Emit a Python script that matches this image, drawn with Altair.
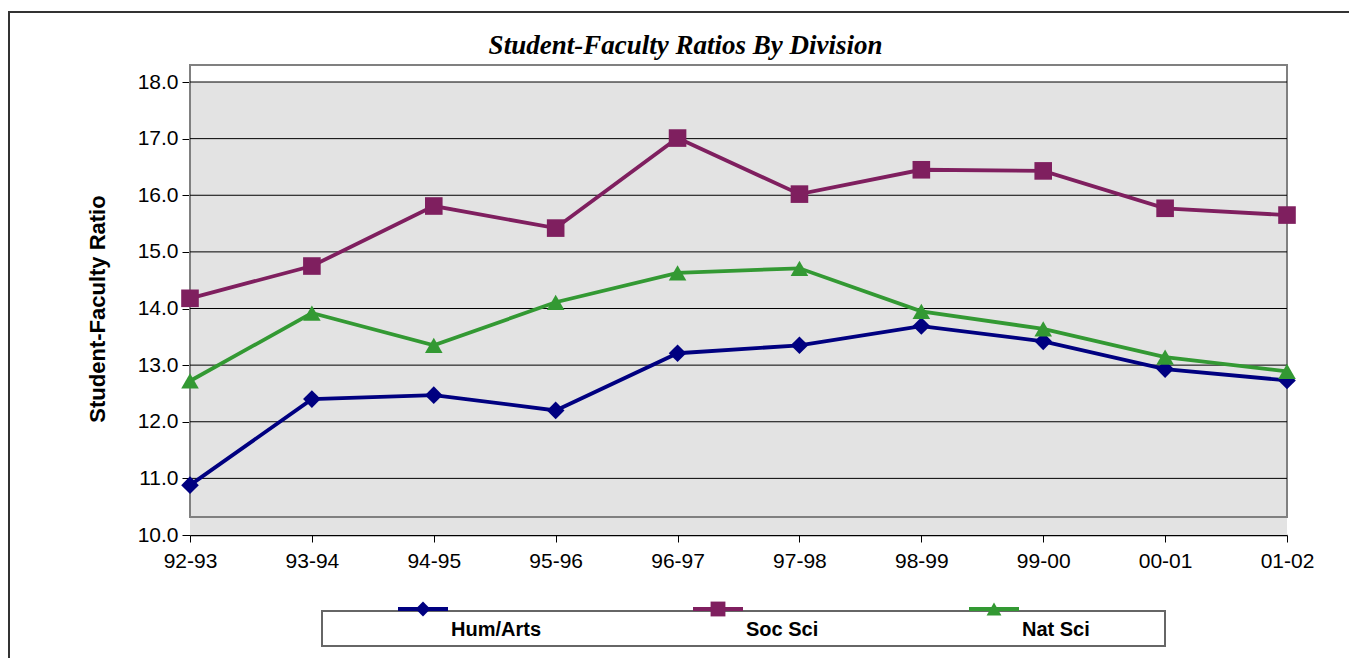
import altair as alt
import pandas as pd

periods = ["92-93", "93-94", "94-95", "95-96", "96-97", "97-98", "98-99", "99-00", "00-01", "01-02"]
series_names = ["Hum/Arts", "Soc Sci", "Nat Sci"]
hum_arts = [10.88, 12.40, 12.47, 12.20, 13.21, 13.35, 13.69, 13.42, 12.93, 12.73]
soc_sci = [14.18, 14.75, 15.81, 15.42, 17.01, 16.02, 16.45, 16.43, 15.77, 15.65]
nat_sci = [12.72, 13.92, 13.35, 14.11, 14.63, 14.71, 13.95, 13.64, 13.14, 12.89]
y_ticks = [10, 11, 12, 13, 14, 15, 16, 17, 18]
colors = ["#000080", "#7F1F5F", "#339933"]
shapes = ["diamond", "square", "triangle-up"]

rows = []
for name, vals in zip(series_names, [hum_arts, soc_sci, nat_sci]):
    for p, v in zip(periods, vals):
        rows.append({"period": p, "series": name, "value": v})
df = pd.DataFrame(rows)
legend_df = pd.DataFrame({"series": series_names})
grid_df = pd.DataFrame({"tick": y_ticks[1:]})
one = pd.DataFrame({"a": [0]})

W, H = 1097, 453

x_scale = alt.Scale(type="point", padding=0, domain=periods)
x_enc = alt.X("period:O", sort=periods, scale=x_scale,
              axis=alt.Axis(title=None, labelAngle=0, labelFontSize=21, labelFont="Liberation Sans",
                            labelColor="black", tickColor="black", tickSize=7, domainColor="black",
                            domainWidth=1.5, grid=False, labelPadding=8))
y_scale = alt.Scale(domain=[10, 18], nice=False, zero=False)
y_enc = alt.Y("value:Q", scale=y_scale,
              axis=alt.Axis(title="Student-Faculty Ratio", values=y_ticks, format=".1f",
                            labelFontSize=21, labelFont="Liberation Sans", labelColor="black",
                            titleFontSize=22, titleFont="Liberation Sans", titleFontWeight="bold",
                            titleColor="black", titlePadding=28, tickColor="black", tickSize=8,
                            domain=False, grid=False, labelPadding=4))
color_enc = alt.Color("series:N", scale=alt.Scale(domain=series_names, range=colors), legend=None)
shape_enc = alt.Shape("series:N", scale=alt.Scale(domain=series_names, range=shapes), legend=None)

frame = alt.Chart(one).mark_rect(fill=None, stroke="#333333", strokeWidth=2).encode(
    x=alt.value(-181), x2=alt.value(1300), y=alt.value(-70), y2=alt.value(800))
bg = alt.Chart(one).mark_rect(fill="#E3E3E3").encode(
    x=alt.value(0), x2=alt.value(W), y=alt.value(0), y2=alt.value(H))
band = alt.Chart(one).mark_rect(fill="white").encode(
    x=alt.value(0), x2=alt.value(W), y=alt.value(-17), y2=alt.value(0))
border = alt.Chart(one).mark_rect(fill=None, stroke="#808080", strokeWidth=2).encode(
    x=alt.value(0), x2=alt.value(W), y=alt.value(-17), y2=alt.value(435))

grid = alt.Chart(grid_df).mark_rule(color="black", strokeWidth=1).encode(
    y=alt.Y("tick:Q", scale=y_scale), x=alt.value(0), x2=alt.value(W))

lines = alt.Chart(df).mark_line(strokeWidth=3.8).encode(x=x_enc, y=y_enc, color=color_enc, detail="series:N")
points = alt.Chart(df).mark_point(filled=True, size=310, opacity=1).encode(
    x=x_enc, y=y_enc, color=color_enc, shape=shape_enc)

leg_box = alt.Chart(one).mark_rect(fill="white", stroke="#666666", strokeWidth=2).encode(
    x=alt.value(132), x2=alt.value(975), y=alt.value(529), y2=alt.value(564))

legend_layers = []
for name, xpos in zip(series_names, [233, 528, 804]):
    base = alt.Chart(legend_df).transform_filter(alt.datum.series == name)
    legend_layers.append(base.mark_rule(strokeWidth=4).encode(
        x=alt.value(xpos - 25), x2=alt.value(xpos + 25), y=alt.value(527), color=color_enc))
    legend_layers.append(base.mark_point(filled=True, size=220, opacity=1).encode(
        x=alt.value(xpos), y=alt.value(527), color=color_enc, shape=shape_enc))
    legend_layers.append(base.mark_text(align="left", baseline="middle", dx=28, dy=21,
                                        fontSize=20, fontWeight="bold", font="Liberation Sans",
                                        color="black").encode(
        x=alt.value(xpos), y=alt.value(527), text="series:N"))

chart = alt.layer(frame, bg, band, border, grid, lines, points, leg_box, *legend_layers).properties(
    width=W, height=H,
    padding={"left": 182, "top": 74, "right": 62, "bottom": 123},
    autosize=alt.AutoSizeParams(type="none"),
    title=alt.Title("Student-Faculty Ratios By Division", font="Liberation Serif", fontSize=27,
                    fontStyle="italic", fontWeight="bold", color="black", anchor="middle",
                    frame="group", baseline="alphabetic", dx=-53, offset=-70),
).configure_view(stroke=None)

chart.save("out.html", embed_options={"renderer": "svg", "actions": False})
